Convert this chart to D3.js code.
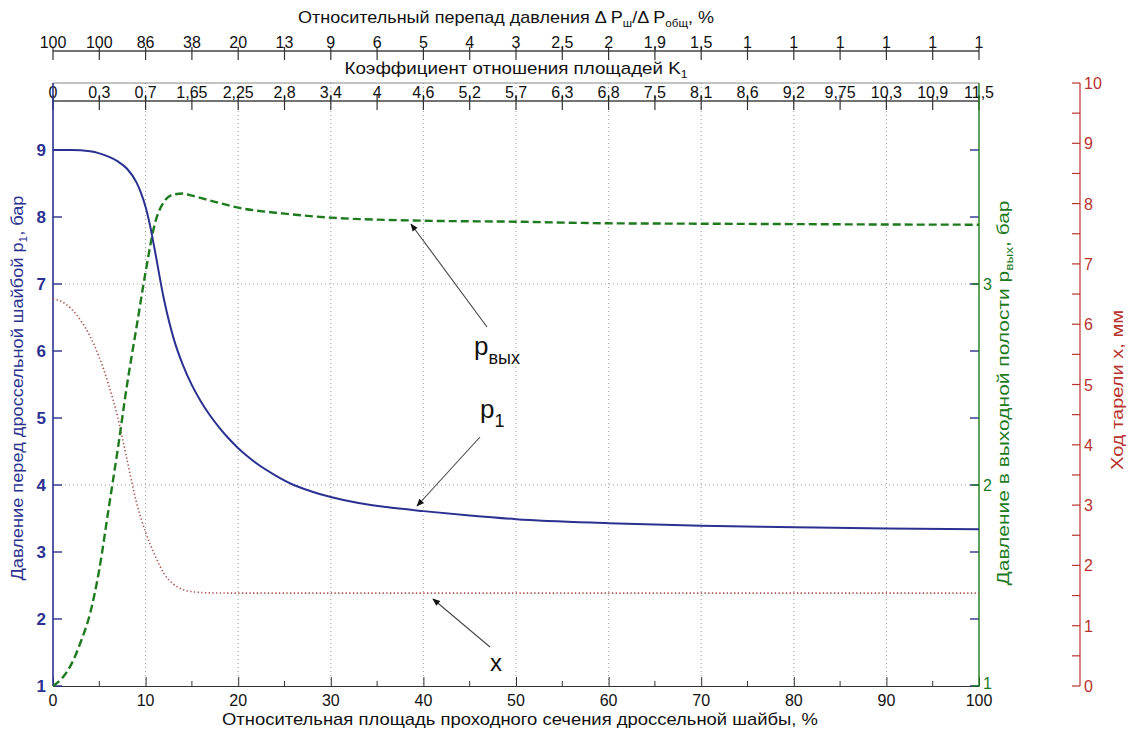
<!DOCTYPE html>
<html>
<head>
<meta charset="utf-8">
<script src="https://cdn.jsdelivr.net/npm/d3@7"></script>
<style>
  body { margin: 0; background: #fff; }
  svg text { font-family: "Liberation Sans", Arial, sans-serif; }
</style>
</head>
<body>
<svg id="chart" width="1128" height="731"></svg>
<script>
// Data

var xTicks = d3.range(0, 101, 5);
var dpLabels = ["100","100","86","38","20","13","9","6","5","4","3","2,5","2","1,9","1,5","1","1","1","1","1","1"];
var k1Labels = ["0","0,3","0,7","1,65","2,25","2,8","3,4","4","4,6","5,2","5,7","6,3","6,8","7,5","8,1","8,6","9,2","9,75","10,3","10,9","11,5"];

// p1, bar (left axis)
var p1X = [0, 2, 4, 5, 6, 7, 8, 9, 9.5, 10, 10.5, 11, 12, 13, 14, 15, 16, 17, 18, 19, 20, 21, 22, 24, 26, 28, 30, 33, 36, 40, 45, 50, 60, 70, 80, 90, 100];
var p1Y = [9.0, 9.0, 8.98, 8.95, 8.9, 8.83, 8.72, 8.52, 8.36, 8.15, 7.86, 7.5, 6.76, 6.2, 5.8, 5.49, 5.24, 5.03, 4.85, 4.69, 4.55, 4.43, 4.32, 4.145, 4.0, 3.9, 3.82, 3.73, 3.67, 3.61, 3.545, 3.49, 3.43, 3.39, 3.37, 3.35, 3.34];

// p_vyx, bar (green axis)
var pvX = [0, 1, 2, 3, 4, 5, 6, 7, 8, 9, 10, 11, 12, 13, 14, 15, 17, 20, 25, 30, 40, 50, 60, 70, 80, 90, 100];
var pvY = [1.0, 1.04, 1.11, 1.22, 1.36, 1.58, 1.88, 2.18, 2.5, 2.78, 3.06, 3.3, 3.41, 3.445, 3.45, 3.44, 3.415, 3.38, 3.35, 3.33, 3.315, 3.31, 3.302, 3.3, 3.298, 3.296, 3.295];

// x, mm (red axis)
var sX = [0, 1, 2, 3, 4, 5, 6, 7, 8, 9, 10, 11, 12, 13, 14, 15, 16, 18, 20, 30, 50, 100];
var sY = [6.42, 6.37, 6.25, 6.06, 5.8, 5.45, 5.0, 4.45, 3.75, 3.05, 2.55, 2.17, 1.86, 1.69, 1.6, 1.565, 1.55, 1.542, 1.54, 1.54, 1.54, 1.54];

var leftTicks = [1, 2, 3, 4, 5, 6, 7, 8, 9];
var greenTicks = [1, 2, 3];
var redTicks = d3.range(0, 11, 1);

// Layout

var blue = "#2b3190", green = "#1d7a1d", red = "#b8322e", redLine = "#a8504c";
var L = 53, R = 979, T = 83, B = 686;

var svg = d3.select("#chart");

var x = d3.scaleLinear().domain([0, 100]).range([L, R]);
var yL = d3.scaleLinear().domain([1, 10]).range([B, T]);
var yG = d3.scaleLinear().domain([1, 4]).range([B, T]);
var yR = d3.scaleLinear().domain([0, 10]).range([B, T]);

var defs = svg.append("defs");
defs.append("marker").attr("id", "arr")
  .attr("viewBox", "0 0 10 10").attr("refX", 9).attr("refY", 5)
  .attr("markerWidth", 9).attr("markerHeight", 7).attr("orient", "auto")
  .append("path").attr("d", "M0,1 L10,5 L0,9 Z").attr("fill", "#111");

// grid
var grid = svg.append("g").attr("stroke", "#9a9a9a").attr("stroke-dasharray", "1,3").attr("stroke-width", 1);
grid.selectAll(".gx").data(d3.range(10, 100, 10)).enter().append("line")
  .attr("x1", function (d) { return x(d); }).attr("x2", function (d) { return x(d); })
  .attr("y1", T).attr("y2", B);
grid.selectAll(".gy").data([2, 3]).enter().append("line")
  .attr("x1", L).attr("x2", R)
  .attr("y1", function (d) { return yG(d); }).attr("y2", function (d) { return yG(d); });

// top border of the plot box
svg.append("line").attr("x1", L).attr("x2", R).attr("y1", T).attr("y2", T)
  .attr("stroke", "#888").attr("stroke-width", 1);

// bottom axis
var xAxis = svg.append("g").attr("transform", "translate(0," + B + ")")
  .call(d3.axisTop(x).tickValues(d3.range(0, 101, 10)).tickSize(9).tickSizeOuter(0).tickFormat(""));
xAxis.select(".domain").attr("stroke", "#333");
xAxis.selectAll(".tick line").attr("stroke", "#333");
svg.append("g").attr("transform", "translate(0," + B + ")")
  .selectAll("line").data(d3.range(5, 100, 10)).enter().append("line")
  .attr("x1", function (d) { return x(d); }).attr("x2", function (d) { return x(d); })
  .attr("y1", 0).attr("y2", -5).attr("stroke", "#333");
svg.append("g").selectAll("text").data(d3.range(0, 101, 10)).enter().append("text")
  .attr("x", function (d) { return x(d); }).attr("y", B + 20)
  .attr("text-anchor", "middle").attr("font-size", 16).attr("fill", "#111")
  .text(function (d) { return d; });
svg.append("text").attr("x", 520).attr("y", 725).attr("text-anchor", "middle")
  .attr("font-size", 17).attr("fill", "#111")
  .attr("textLength", 596).attr("lengthAdjust", "spacingAndGlyphs")
  .text("Относительная площадь проходного сечения дроссельной шайбы, %");

// top axes (pressure drop ratio and K1)
function topAxis(yLine, labels, up, down) {
  var g = svg.append("g").attr("transform", "translate(0," + yLine + ")");
  g.append("line").attr("x1", L).attr("x2", R).attr("y1", 0).attr("y2", 0)
    .attr("stroke", "#444").attr("stroke-width", 1.6);
  g.selectAll("line.t").data(xTicks).enter().append("line").attr("class", "t")
    .attr("x1", function (d) { return x(d); }).attr("x2", function (d) { return x(d); })
    .attr("y1", -up).attr("y2", down).attr("stroke", "#333").attr("stroke-width", 1.2);
  g.selectAll("text").data(xTicks).enter().append("text")
    .attr("x", function (d) { return x(d); }).attr("y", -3)
    .attr("text-anchor", "middle").attr("font-size", 16).attr("fill", "#111")
    .text(function (d, i) { return labels[i]; });
}
topAxis(51, dpLabels, 4, 9);
topAxis(101, k1Labels, 6, 9);

var t1 = svg.append("text").attr("x", 506).attr("y", 23).attr("text-anchor", "middle")
  .attr("font-size", 17).attr("fill", "#111")
  .attr("textLength", 416).attr("lengthAdjust", "spacingAndGlyphs");
t1.append("tspan").text("Относительный перепад давления Δ P");
t1.append("tspan").attr("font-size", 11).attr("dy", 4).text("ш");
t1.append("tspan").attr("dy", -4).text("/Δ P");
t1.append("tspan").attr("font-size", 11).attr("dy", 4).text("общ");
t1.append("tspan").attr("dy", -4).text(", %");

var t2 = svg.append("text").attr("x", 516).attr("y", 74).attr("text-anchor", "middle")
  .attr("font-size", 17).attr("fill", "#111")
  .attr("textLength", 343).attr("lengthAdjust", "spacingAndGlyphs");
t2.append("tspan").text("Коэффициент отношения площадей K");
t2.append("tspan").attr("font-size", 11).attr("dy", 4).text("1");

// left axis
svg.append("line").attr("x1", L).attr("x2", L).attr("y1", T).attr("y2", B)
  .attr("stroke", blue).attr("stroke-width", 1.6);
svg.append("g").selectAll("line").data(leftTicks).enter().append("line")
  .attr("x1", L).attr("x2", L + 9)
  .attr("y1", function (d) { return yL(d); }).attr("y2", function (d) { return yL(d); })
  .attr("stroke", blue).attr("stroke-width", 1.4);
svg.append("g").selectAll("line").data(leftTicks).enter().append("line")
  .attr("x1", R).attr("x2", R - 9)
  .attr("y1", function (d) { return yL(d); }).attr("y2", function (d) { return yL(d); })
  .attr("stroke", blue).attr("stroke-width", 1.4);
svg.append("g").selectAll("text").data(leftTicks).enter().append("text")
  .attr("x", L - 7).attr("y", function (d) { return yL(d) + 6; })
  .attr("text-anchor", "end").attr("font-size", 17).attr("font-weight", "bold").attr("fill", blue)
  .text(function (d) { return d; });
var tl = svg.append("text").attr("transform", "translate(23,388) rotate(-90)")
  .attr("text-anchor", "middle").attr("font-size", 17).attr("fill", blue)
  .attr("textLength", 385).attr("lengthAdjust", "spacingAndGlyphs");
tl.append("tspan").text("Давление перед дроссельной шайбой p");
tl.append("tspan").attr("font-size", 11).attr("dy", 4).text("1");
tl.append("tspan").attr("dy", -4).text(", бар");

// green axis
svg.append("line").attr("x1", R).attr("x2", R).attr("y1", T).attr("y2", B)
  .attr("stroke", green).attr("stroke-width", 1.4);
svg.append("g").selectAll("line").data(greenTicks).enter().append("line")
  .attr("x1", R).attr("x2", R - 7)
  .attr("y1", function (d) { return yG(d); }).attr("y2", function (d) { return yG(d); })
  .attr("stroke", green).attr("stroke-width", 1.4);
svg.append("g").selectAll("text").data(greenTicks).enter().append("text")
  .attr("x", R + 4).attr("y", function (d) { return yG(d) + (d === 1 ? 3 : 6); })
  .attr("font-size", 16).attr("fill", green)
  .text(function (d) { return d; });
var tg = svg.append("text").attr("transform", "translate(1009,393) rotate(-90)")
  .attr("text-anchor", "middle").attr("font-size", 17).attr("fill", green)
  .attr("textLength", 385).attr("lengthAdjust", "spacingAndGlyphs");
tg.append("tspan").text("Давление в выходной полости p");
tg.append("tspan").attr("font-size", 11).attr("dy", 4).text("вых");
tg.append("tspan").attr("dy", -4).text(", бар");

// red axis
var RX = 1080;
svg.append("line").attr("x1", RX).attr("x2", RX).attr("y1", T).attr("y2", B)
  .attr("stroke", red).attr("stroke-width", 1.2);
svg.append("g").selectAll("line").data(d3.range(0, 10.01, 0.5)).enter().append("line")
  .attr("x1", RX).attr("x2", RX - 8)
  .attr("y1", function (d) { return yR(d); }).attr("y2", function (d) { return yR(d); })
  .attr("stroke", red).attr("stroke-width", 1.2);
svg.append("g").selectAll("text").data(redTicks).enter().append("text")
  .attr("x", RX + 4).attr("y", function (d) { return yR(d) + 6; })
  .attr("font-size", 16).attr("fill", red)
  .text(function (d) { return d; });
svg.append("text").attr("transform", "translate(1123,390) rotate(-90)")
  .attr("text-anchor", "middle").attr("font-size", 17).attr("fill", red)
  .attr("textLength", 160).attr("lengthAdjust", "spacingAndGlyphs")
  .text("Ход тарели х, мм");

// curves
var clip = defs.append("clipPath").attr("id", "plot");
clip.append("rect").attr("x", L).attr("y", T).attr("width", R - L).attr("height", B - T + 1);

var plot = svg.append("g").attr("clip-path", "url(#plot)");

function curve(xs, ys, yScale) {
  return d3.line()
    .x(function (d, i) { return x(xs[i]); })
    .y(function (d) { return yScale(d); })
    .curve(d3.curveMonotoneX)(ys);
}

plot.append("path").attr("d", curve(sX, sY, yR))
  .attr("fill", "none").attr("stroke", redLine).attr("stroke-width", 1.6)
  .attr("stroke-dasharray", "1.3,2.4");
plot.append("path").attr("d", curve(pvX, pvY, yG))
  .attr("fill", "none").attr("stroke", green).attr("stroke-width", 2.4)
  .attr("stroke-dasharray", "8,4");
plot.append("path").attr("d", curve(p1X, p1Y, yL))
  .attr("fill", "none").attr("stroke", blue).attr("stroke-width", 2);

// annotations
var notes = [
  { from: [487, 327], to: [411, 224] },
  { from: [480, 437], to: [417, 506] },
  { from: [490, 647], to: [433, 599] }
];
svg.append("g").selectAll("line").data(notes).enter().append("line")
  .attr("x1", function (d) { return d.from[0]; }).attr("y1", function (d) { return d.from[1]; })
  .attr("x2", function (d) { return d.to[0]; }).attr("y2", function (d) { return d.to[1]; })
  .attr("stroke", "#444").attr("stroke-width", 1.1).attr("marker-end", "url(#arr)");

var a1 = svg.append("text").attr("x", 474).attr("y", 355).attr("font-size", 26).attr("fill", "#111");
a1.append("tspan").text("p");
a1.append("tspan").attr("font-size", 18).attr("dy", 9).text("вых");
var a2 = svg.append("text").attr("x", 480).attr("y", 418).attr("font-size", 26).attr("fill", "#111");
a2.append("tspan").text("p");
a2.append("tspan").attr("font-size", 18).attr("dy", 9).text("1");
svg.append("text").attr("x", 490).attr("y", 671).attr("font-size", 24).attr("fill", "#111").text("x");
</script>
</body>
</html>
